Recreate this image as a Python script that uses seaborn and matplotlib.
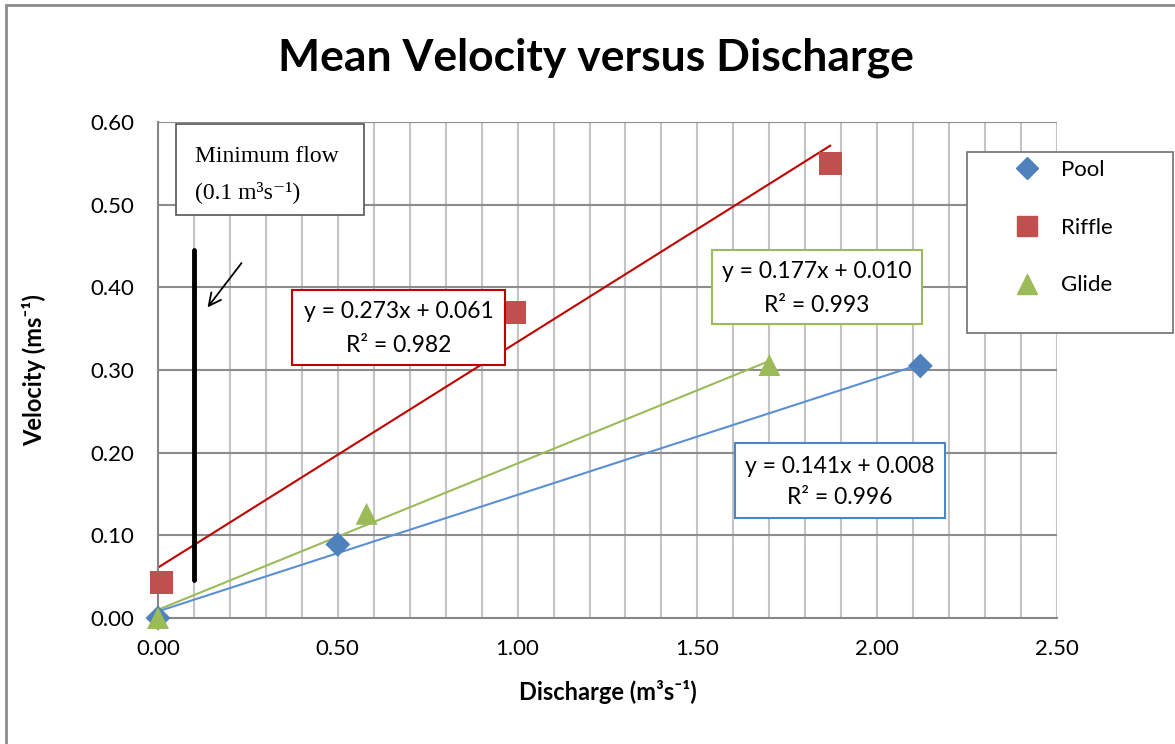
import numpy as np
import pandas as pd
import matplotlib
matplotlib.use("Agg")
import matplotlib.pyplot as plt
from matplotlib.patches import Rectangle
from matplotlib.lines import Line2D
import seaborn as sns

# ---- data ----
series = ["Pool", "Riffle", "Glide"]
pool_x = [0.00, 0.50, 2.12]
pool_y = [0.000, 0.089, 0.305]
riffle_x = [0.01, 0.99, 1.87]
riffle_y = [0.043, 0.370, 0.550]
glide_x = [0.00, 0.58, 1.70]
glide_y = [0.000, 0.126, 0.306]
slopes = [0.141, 0.273, 0.177]
intercepts = [0.008, 0.061, 0.010]
r2 = [0.996, 0.982, 0.993]
x_ticks = [0.0, 0.5, 1.0, 1.5, 2.0, 2.5]
y_ticks = [0.0, 0.1, 0.2, 0.3, 0.4, 0.5, 0.6]
min_flow = 0.1
min_flow_span = [0.046, 0.445]

sns.set_theme(style="white")
plt.rcParams["font.family"] = ["Lato", "DejaVu Sans"]
plt.rcParams["text.color"] = "black"
plt.rcParams["axes.labelcolor"] = "black"

marker_colors = {"Pool": "#4F81BD", "Riffle": "#C0504D", "Glide": "#9BBB59"}
line_colors = {"Pool": "#5B8FD6", "Riffle": "#C00000", "Glide": "#9BBB59"}
box_colors = {"Pool": "#4A86C8", "Riffle": "#C00000", "Glide": "#9BBB59"}
markers = {"Pool": "D", "Riffle": "s", "Glide": "^"}
msize = {"Pool": 160, "Riffle": 280, "Glide": 250}

df = pd.DataFrame({
    "Discharge": pool_x + riffle_x + glide_x,
    "Velocity": pool_y + riffle_y + glide_y,
    "Site": ["Pool"] * 3 + ["Riffle"] * 3 + ["Glide"] * 3,
})

fig = plt.figure(figsize=(11.75, 7.44), dpi=100)
W, H = 1175, 744
ax = fig.add_axes([158 / W, 1 - 618 / H, 899 / W, 496 / H])

# gridlines
ax.set_xlim(0, 2.5)
ax.set_ylim(0, 0.6)
ax.set_xticks(x_ticks)
ax.set_xticks(np.arange(0, 2.51, 0.1), minor=True)
ax.set_yticks(y_ticks)
ax.grid(False)
for xv in np.arange(0.1, 2.51, 0.1):
    ax.axvline(xv, color="#C4C4C4", lw=1.5, zorder=0)
for yv in y_ticks[1:]:
    ax.axhline(yv, color="#8C8C8C", lw=1.5, zorder=0)

# trendlines
xs_all = [pool_x, riffle_x, glide_x]
for name, xs, m, b in zip(series, xs_all, slopes, intercepts):
    xx = np.array([0.0, max(xs)])
    sns.lineplot(x=xx, y=m * xx + b, color=line_colors[name], lw=1.5, ax=ax, zorder=2)

# points
for name in series:
    sub = df[df.Site == name]
    sns.scatterplot(data=sub, x="Discharge", y="Velocity", marker=markers[name],
                    color=marker_colors[name], s=msize[name], edgecolor="none",
                    ax=ax, zorder=3, clip_on=False, legend=False)

# minimum flow line and arrow
ax.plot([min_flow, min_flow], min_flow_span, color="black", lw=3.5, zorder=4)
ax.annotate("", xy=(0.133, 0.373), xytext=(0.237, 0.432),
            arrowprops=dict(arrowstyle="->", color="black", lw=1.3, mutation_scale=22), zorder=4)

# spines and ticks
for s in ["top", "right"]:
    ax.spines[s].set_visible(False)
for s in ["left", "bottom"]:
    ax.spines[s].set_color("#868686")
    ax.spines[s].set_linewidth(1.5)
ax.tick_params(axis="both", which="major", direction="out", length=7, width=1.5,
               color="#868686", labelsize=16, labelcolor="black")
ax.tick_params(axis="x", which="major", pad=8)
ax.tick_params(axis="y", which="major", pad=10)
ax.tick_params(axis="x", which="minor", length=0)
ax.set_xticklabels([f"{v:.2f}" for v in x_ticks])
ax.set_yticklabels([f"{v:.2f}" for v in y_ticks])
ax.set_xlabel("Discharge (m³s⁻¹)", fontsize=17, fontweight="bold")
ax.set_ylabel("Velocity (ms⁻¹)", fontsize=17, fontweight="bold")
ax.xaxis.set_label_coords(0.5, (618 - 680) / 496)
ax.yaxis.set_label_coords((46 - 158) / 899, 0.5)

fig.text(0.5 * (283 + 908) / W, 1 - 58 / H, "Mean Velocity versus Discharge",
         ha="center", va="center", fontsize=32, fontweight="bold", color="black")

# equation boxes (axes coords)
def eq_box(x0, y0, x1, y1, color, cx, ty1, ty2, m, b, r):
    ax.add_patch(Rectangle((x0, y0), x1 - x0, y1 - y0, transform=ax.transAxes,
                           facecolor="white", edgecolor=color, lw=1.5, zorder=5))
    ax.text(cx, ty1, f"y = {m:.3f}x + {b:.3f}", transform=ax.transAxes,
            ha="center", va="center", fontsize=16.5, zorder=6)
    ax.text(cx, ty2, f"R² = {r:.3f}", transform=ax.transAxes,
            ha="center", va="center", fontsize=16.5, zorder=6)

eq_box(0.149, 0.510, 0.386, 0.661, box_colors["Riffle"], 0.268, 0.617, 0.550,
       slopes[1], intercepts[1], r2[1])
eq_box(0.616, 0.593, 0.850, 0.742, box_colors["Glide"], 0.733, 0.698, 0.631,
       slopes[2], intercepts[2], r2[2])
eq_box(0.642, 0.2016, 0.875, 0.353, box_colors["Pool"], 0.7586, 0.306, 0.242,
       slopes[0], intercepts[0], r2[0])

# minimum flow text box
ax.add_patch(Rectangle((0.020, 0.8125), 0.209, 0.1835, transform=ax.transAxes,
                       facecolor="white", edgecolor="#555555", lw=1.2, zorder=5))
serif = ["Liberation Serif", "DejaVu Serif"]
ax.text(0.041, (618 - 157) / 496, "Minimum flow", transform=ax.transAxes, ha="left",
        va="center", fontsize=17, family=serif, zorder=6)
ax.text(0.041, (618 - 192) / 496, "(0.1 m³s⁻¹)", transform=ax.transAxes, ha="left",
        va="center", fontsize=17, family=serif, zorder=6)

# legend box (figure coords)
fig.patches.append(Rectangle((967 / W, 1 - 333 / H), 206 / W, 181 / H,
                             transform=fig.transFigure, facecolor="white",
                             edgecolor="#707070", lw=1.2, zorder=5))
handles = [Line2D([], [], marker=markers[n], color=marker_colors[n], linestyle="none",
                  markersize={"Pool": 11, "Riffle": 14, "Glide": 14}[n]) for n in series]
leg = fig.legend(handles, series, loc="upper left",
                 bbox_to_anchor=(993 / W, 1 - 142 / H), bbox_transform=fig.transFigure,
                 frameon=False, fontsize=16, labelspacing=1.7, handletextpad=0.75,
                 handlelength=1.5, borderpad=0.3)
leg.set_zorder(6)

# outer chart border
fig.patches.append(Rectangle((6 / W, -0.05), 1.1, 1 - 5 / H + 0.05,
                             transform=fig.transFigure, facecolor="none",
                             edgecolor="#8C8C8C", lw=2, zorder=10))

fig.savefig("out.png", dpi=100)
